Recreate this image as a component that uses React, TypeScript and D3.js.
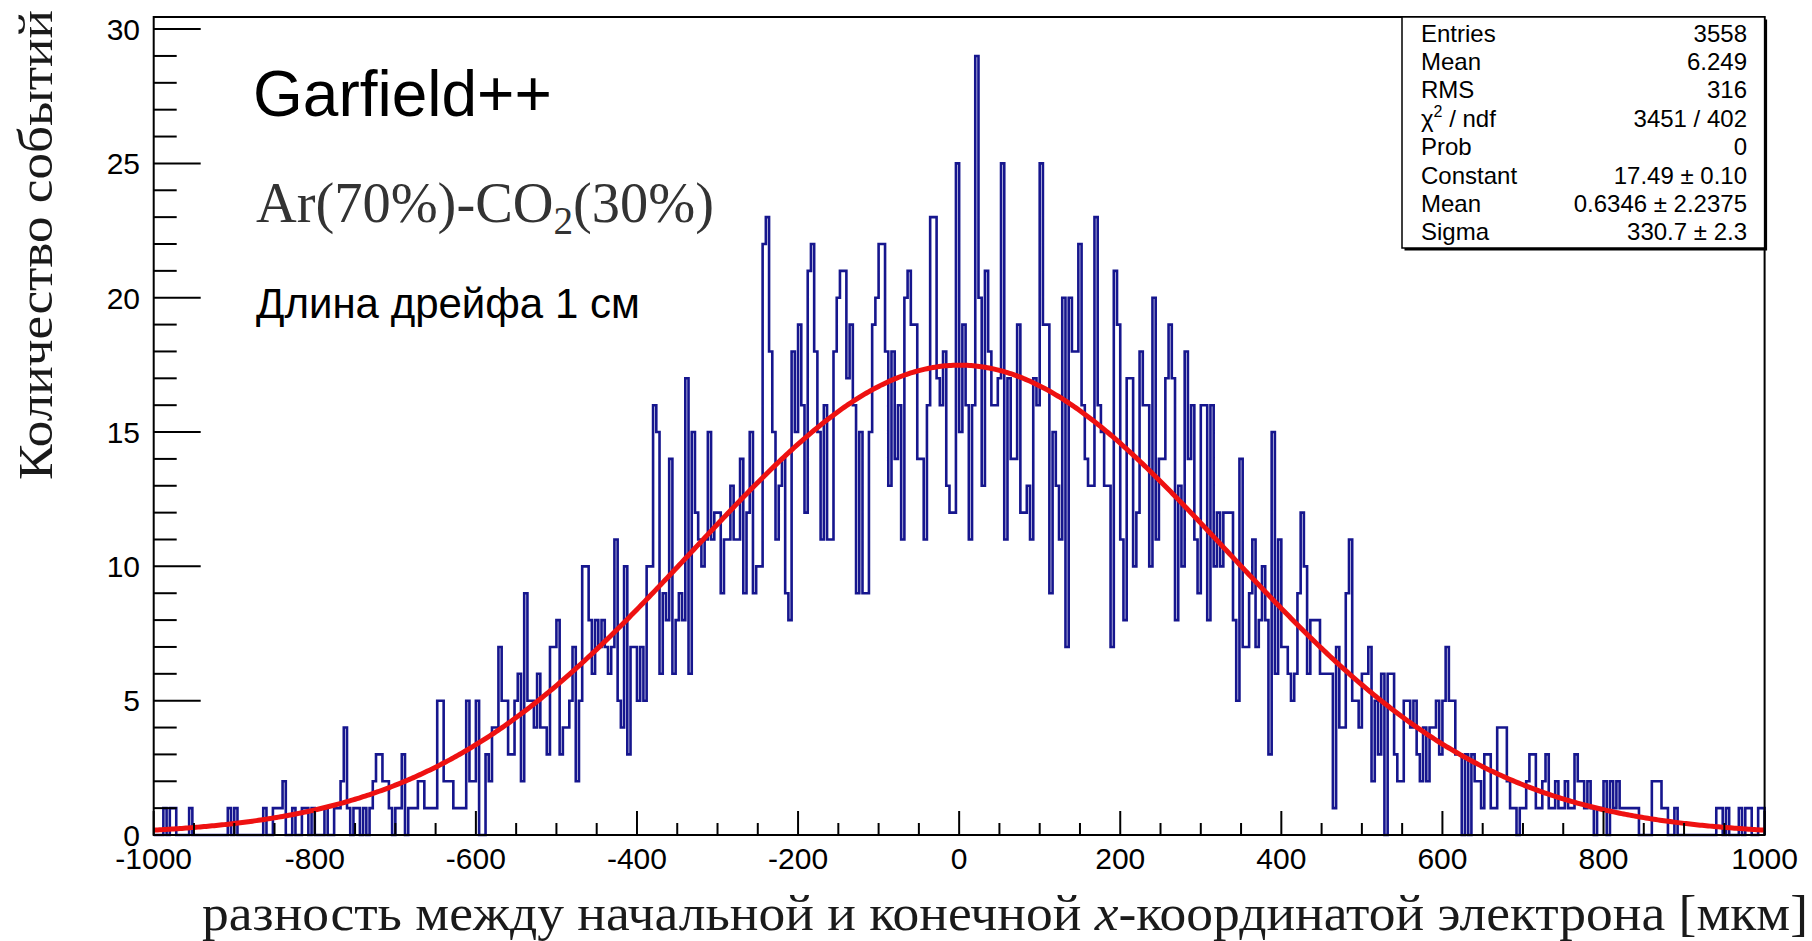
import React from "react";
import * as d3 from "d3";

// Histogram: 500 bins of 4 µm from -1000 to 1000 µm
const xMin = -1000;
const xMax = 1000;

const countsA = [
  0, 0, 0, 1, 0, 1, 1, 0, 0, 0,
  0, 1, 0, 0, 0, 0, 0, 0, 0, 0,
  0, 0, 0, 1, 0, 1, 0, 0, 0, 0,
  0, 0, 0, 0, 1, 0, 0, 1, 1, 1,
  2, 0, 0, 1, 0, 0, 1, 1, 0, 1,
  0, 0, 0, 1, 0, 0, 1, 1, 2, 4,
  1, 0, 1, 1, 0, 1, 0, 1, 2, 3,
  3, 2, 2, 1, 0, 1, 1, 3, 0, 1,
  1, 1, 2, 2, 1, 1, 1, 1, 5, 5,
  2, 2, 2, 1, 1, 1, 1, 5, 2, 2,
];
const countsB = [
  5, 0, 0, 3, 2, 4, 4, 7, 5, 5,
  3, 3, 5, 6, 2, 9, 5, 5, 4, 6,
  4, 4, 3, 7, 7, 8, 3, 4, 4, 5,
  7, 2, 5, 10, 10, 8, 6, 8, 7, 8,
  7, 6, 7, 11, 5, 4, 10, 3, 7, 7,
  5, 7, 5, 10, 10, 16, 15, 6, 9, 8,
  14, 6, 8, 9, 8, 17, 6, 15, 12, 11,
  10, 11, 15, 11, 12, 12, 9, 11, 11, 13,
  11, 11, 14, 9, 12, 15, 9, 10, 10, 22,
  23, 18, 15, 11, 13, 14, 9, 8, 18, 15,
];
const countsC = [
  19, 16, 12, 21, 22, 18, 15, 11, 16, 11,
  11, 18, 20, 21, 21, 17, 19, 16, 9, 15,
  9, 9, 15, 19, 20, 22, 22, 18, 13, 18,
  14, 16, 11, 20, 21, 19, 19, 14, 14, 11,
  16, 23, 23, 17, 16, 18, 13, 12, 12, 25,
  15, 19, 16, 11, 16, 29, 20, 13, 21, 18,
  16, 16, 17, 25, 11, 17, 14, 14, 19, 12,
  12, 13, 11, 17, 16, 25, 19, 19, 9, 15,
  13, 11, 20, 7, 20, 18, 18, 22, 16, 14,
  13, 13, 23, 16, 15, 13, 13, 7, 21, 19,
];
const countsD = [
  11, 8, 17, 17, 10, 12, 18, 16, 16, 10,
  20, 11, 14, 14, 17, 19, 17, 8, 13, 10,
  18, 14, 16, 11, 9, 16, 16, 8, 16, 10,
  12, 10, 12, 12, 12, 8, 5, 14, 7, 7,
  9, 11, 7, 8, 10, 8, 3, 15, 6, 11,
  7, 7, 6, 5, 6, 9, 12, 10, 6, 8,
  8, 8, 6, 6, 6, 6, 1, 7, 4, 4,
  9, 11, 5, 5, 4, 6, 6, 7, 2, 5,
  3, 6, 0, 6, 6, 3, 2, 2, 5, 5,
  4, 5, 3, 2, 4, 2, 4, 4, 5, 3,
];
const countsE = [
  5, 7, 5, 5, 3, 3, 0, 3, 0, 3,
  2, 2, 1, 3, 3, 1, 1, 4, 4, 4,
  2, 1, 1, 0, 1, 1, 2, 3, 3, 1,
  1, 2, 3, 1, 1, 2, 1, 1, 2, 1,
  1, 3, 2, 2, 1, 2, 1, 0, 1, 1,
  2, 0, 2, 1, 2, 1, 1, 1, 1, 1,
  1, 0, 0, 0, 0, 2, 2, 2, 1, 1,
  0, 0, 1, 0, 0, 0, 0, 0, 0, 0,
  0, 0, 0, 0, 0, 1, 1, 0, 1, 0,
  0, 0, 1, 0, 1, 1, 0, 0, 1, 1,
];
const counts = [...countsA, ...countsB, ...countsC, ...countsD, ...countsE];

// Gaussian fit parameters
const fitConstant = 17.49;
const fitMean = 0.6346;
const fitSigma = 330.7;

const xTickLabels = [-1000, -800, -600, -400, -200, 0, 200, 400, 600, 800, 1000];
const yTickLabels = [0, 5, 10, 15, 20, 25, 30];
const yMaxValue = 30.45;

const statLabels = ["Entries", "Mean", "RMS", "χ2 / ndf", "Prob", "Constant", "Mean", "Sigma"];
const statValues = ["3558", "6.249", "316", "3451 / 402", "0", "17.49 ± 0.10", "0.6346 ± 2.2375", "330.7 ± 2.3"];

const W = 1812;
const H = 941;
const L = 153.7;
const R = 1764.6;
const T = 17;
const B = 835;

const sans = "'Liberation Sans', Arial, Helvetica, sans-serif";
const serif = "'Liberation Serif', 'Times New Roman', serif";

export default function App() {
  const x = d3.scaleLinear().domain([xMin, xMax]).range([L, R]);
  const y = d3.scaleLinear().domain([0, yMaxValue]).range([B, T]);
  const binWidth = (xMax - xMin) / counts.length;

  // step outline of the histogram
  const pts: [number, number][] = [[xMin, 0]];
  counts.forEach((c, i) => pts.push([xMin + i * binWidth, c]));
  pts.push([xMax, counts[counts.length - 1]]);
  pts.push([xMax, 0]);
  const histLine = d3
    .line<[number, number]>()
    .x((d) => x(d[0]))
    .y((d) => y(d[1]))
    .curve(d3.curveStepAfter);
  const histPath = histLine(pts) || "";

  const fx = d3.range(0, 801).map((k) => xMin + (k * (xMax - xMin)) / 800);
  const fitLine = d3
    .line<number>()
    .x((v) => x(v))
    .y((v) => y(fitConstant * Math.exp(-0.5 * ((v - fitMean) / fitSigma) ** 2)));
  const fitPath = fitLine(fx) || "";

  const xMinor = d3.range(xMin, xMax + 1, 50).filter((v) => v % 200 !== 0);
  const yMinor = d3.range(0, 31, 1).filter((v) => v % 5 !== 0);

  const statTop = 41.5;
  const statStep = 28.4;

  return (
    <div style={{ position: "absolute", left: 0, top: 0 }}>
      <svg width={W} height={H} viewBox={`0 0 ${W} ${H}`} style={{ display: "block", background: "#fff" }}>
        <rect x={0} y={0} width={W} height={H} fill="#fff" />

        {/* histogram */}
        <path d={histPath} fill="none" stroke="#16168e" strokeWidth={2.6} strokeLinejoin="miter" />

        {/* fit */}
        <path d={fitPath} fill="none" stroke="#ee1111" strokeWidth={5} strokeLinejoin="round" />

        {/* frame */}
        <rect x={L} y={T} width={R - L} height={B - T} fill="none" stroke="#000" strokeWidth={2} />

        {/* y axis ticks */}
        {yTickLabels.map((v) => (
          <g key={"yt" + v}>
            <line x1={L} x2={L + 47} y1={y(v)} y2={y(v)} stroke="#000" strokeWidth={2} />
            <text x={140} y={y(v)} dy="0.36em" textAnchor="end" fontFamily={sans} fontSize={30} fill="#000">
              {v}
            </text>
          </g>
        ))}
        {yMinor.map((v) => (
          <line key={"ym" + v} x1={L} x2={L + 23} y1={y(v)} y2={y(v)} stroke="#000" strokeWidth={2} />
        ))}

        {/* x axis ticks */}
        {xTickLabels.map((v) => (
          <g key={"xt" + v}>
            <line x1={x(v)} x2={x(v)} y1={B} y2={B - 24} stroke="#000" strokeWidth={2} />
            <text x={x(v)} y={869} textAnchor="middle" fontFamily={sans} fontSize={30} fill="#000">
              {v}
            </text>
          </g>
        ))}
        {xMinor.map((v) => (
          <line key={"xm" + v} x1={x(v)} x2={x(v)} y1={B} y2={B - 12} stroke="#000" strokeWidth={2} />
        ))}

        {/* axis titles */}
        <text
          transform={`translate(52, 10) rotate(-90)`}
          textAnchor="end"
          fontFamily={serif}
          fontSize={48}
          textLength={470}
          lengthAdjust="spacingAndGlyphs"
          fill="#1a1a1a"
        >
          Количество событий
        </text>
        <text
          x={1808}
          y={930}
          textAnchor="end"
          fontFamily={serif}
          fontSize={50}
          textLength={1606}
          lengthAdjust="spacingAndGlyphs"
          fill="#1a1a1a"
        >
          разность между начальной и конечной <tspan fontStyle="italic">x</tspan>-координатой электрона [мкм]
        </text>

        {/* annotations */}
        <text x={253} y={116} fontFamily={sans} fontSize={64} fill="#000">
          Garfield++
        </text>
        <text x={256} y={222} fontFamily={serif} fontSize={56} fill="#333" textLength={458} lengthAdjust="spacingAndGlyphs">
          Ar(70%)-CO<tspan dy={12} fontSize={39}>2</tspan>
          <tspan dy={-12}>(30%)</tspan>
        </text>
        <text x={256} y={318} fontFamily={sans} fontSize={42} fill="#000">
          Длина дрейфа 1 см
        </text>

        {/* statistics box */}
        <rect x={1404.5} y={T + 2.5} width={R - 1402} height={231} fill="#000" />
        <rect x={1402} y={T} width={R - 1402} height={231} fill="#fff" stroke="#000" strokeWidth={1.5} />
        {statLabels.map((lab, i) => (
          <text key={"sl" + i} x={1421} y={statTop + statStep * i} fontFamily={sans} fontSize={24} fill="#000">
            {lab === "χ2 / ndf" ? (
              <>
                χ<tspan dy={-10} fontSize={16}>2</tspan>
                <tspan dy={10}> / ndf</tspan>
              </>
            ) : (
              lab
            )}
          </text>
        ))}
        {statValues.map((val, i) => (
          <text key={"sv" + i} x={1747} y={statTop + statStep * i} textAnchor="end" fontFamily={sans} fontSize={24} fill="#000">
            {val}
          </text>
        ))}
      </svg>
    </div>
  );
}
